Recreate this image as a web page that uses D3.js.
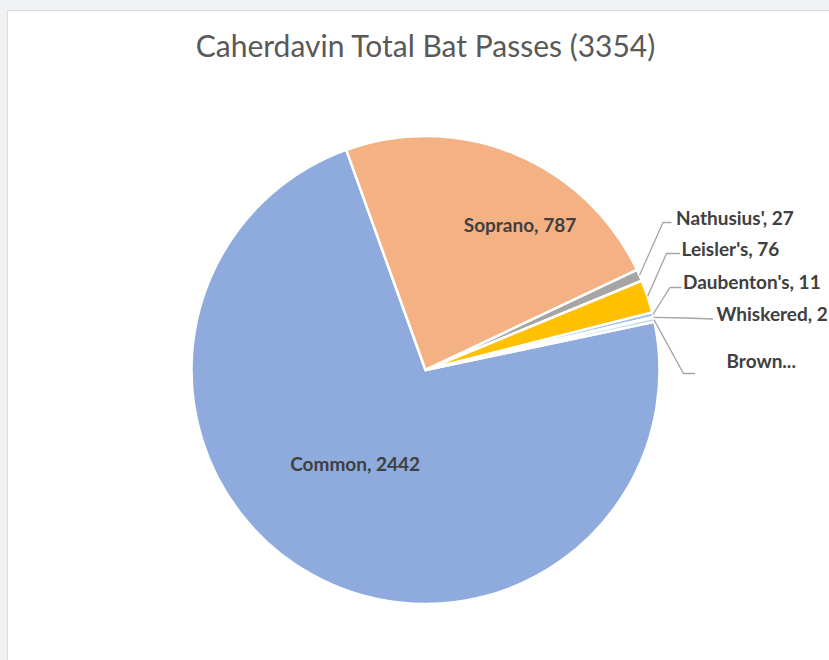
<!DOCTYPE html>
<html>
<head>
<meta charset="utf-8">
<script src="https://cdn.jsdelivr.net/npm/d3@7"></script>
<style>
  html, body { margin: 0; padding: 0; background: #f0f1f3; }
  svg { display: block; }
</style>
</head>
<body>
<svg id="chart" width="829" height="660"></svg>
<script>
// chart data
const species = ["Common", "Soprano", "Nathusius'", "Leisler's", "Daubenton's", "Whiskered", "Brown"];
const passes = [2442, 787, 27, 76, 11, 2, 9];
const labelText = ["Common, 2442", "Soprano, 787", "Nathusius', 27", "Leisler's, 76", "Daubenton's, 11", "Whiskered, 2", "Brown..."];
const sliceColors = ["#8faadc", "#f4b183", "#a5a5a5", "#ffc000", "#9dc3e6", "#a9d18e", "#bdd7ee"];
const titleText = "Caherdavin Total Bat Passes (3354)";

const width = 829, height = 660;
const cx = 425.5, cy = 370, radius = 234;
// Excel "angle of first slice"
const firstAngle = 78.1 * Math.PI / 180;
const labelSize = "19px";

const svg = d3.select("#chart");

// card behind the chart
svg.append("rect")
  .attr("x", 7.5)
  .attr("y", 10.5)
  .attr("width", width)
  .attr("height", height)
  .attr("fill", "#ffffff")
  .attr("stroke", "#dadbdd");

// title
svg.append("text")
  .attr("x", cx)
  .attr("y", 57)
  .attr("text-anchor", "middle")
  .attr("font-family", "Lato, sans-serif")
  .attr("font-size", "30px")
  .attr("fill", "#595959")
  .text(titleText);

const pie = d3.pie()
  .sort(null)
  .value(function (d) { return d; })
  .startAngle(firstAngle)
  .endAngle(firstAngle + 2 * Math.PI);

const arcs = pie(passes);

const arc = d3.arc().innerRadius(0).outerRadius(radius);

const g = svg.append("g").attr("transform", "translate(" + cx + "," + cy + ")");

// slices
g.selectAll("path.slice")
  .data(arcs)
  .enter()
  .append("path")
  .attr("class", "slice")
  .attr("d", arc)
  .attr("fill", function (d, i) { return sliceColors[i]; })
  .attr("stroke", "#ffffff")
  .attr("stroke-width", 2.5)
  .attr("stroke-linejoin", "round");

// labels inside the two big slices: [index, angle (deg), distance]
const innerLabels = [[0, 216.6, 118], [1, 33.1, 173]];
innerLabels.forEach(function (l) {
  const p = d3.pointRadial(l[1] * Math.PI / 180, l[2]);
  g.append("text")
    .attr("x", p[0])
    .attr("y", p[1])
    .attr("dy", "0.35em")
    .attr("text-anchor", "middle")
    .attr("font-family", "Lato, sans-serif")
    .attr("font-weight", "bold")
    .attr("font-size", labelSize)
    .attr("fill", "#404040")
    .text(labelText[l[0]]);
});

// leader lines for the small slices: elbow, line end and text position (relative to centre)
const outerLabels = [
  { i: 2, elbow: [237.5, -147.5], end: [246, -147.5], text: [250.5, -152] },
  { i: 3, elbow: [241, -116.5], end: [254.5, -116.5], text: [256, -121] },
  { i: 4, elbow: [244.5, -82.5], end: [256, -82.5], text: [257.5, -87.5] },
  { i: 5, elbow: [260, -52], end: [287.5, -51], text: [291, -55.5] },
  { i: 6, elbow: [258, 3.5], end: [269.5, 3.5], text: [301, -8.5] }
];

outerLabels.forEach(function (l) {
  const d = arcs[l.i];
  const mid = (d.startAngle + d.endAngle) / 2;
  const start = d3.pointRadial(mid, radius);
  g.append("path")
    .attr("d", d3.line()([start, l.elbow, l.end]))
    .attr("fill", "none")
    .attr("stroke", "#a6a6a6")
    .attr("stroke-width", 1.3);
  g.append("text")
    .attr("x", l.text[0])
    .attr("y", l.text[1])
    .attr("dy", "0.35em")
    .attr("font-family", "Lato, sans-serif")
    .attr("font-weight", "bold")
    .attr("font-size", labelSize)
    .attr("fill", "#404040")
    .text(labelText[l.i]);
});
</script>
</body>
</html>
